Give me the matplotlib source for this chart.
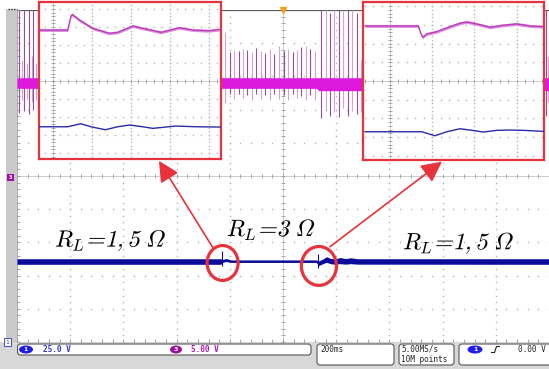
import numpy as np
import matplotlib.pyplot as plt
from matplotlib.patches import Ellipse, FancyBboxPatch, Rectangle, PathPatch
from matplotlib.textpath import TextPath
from matplotlib.transforms import Affine2D, ScaledTranslation

plt.rcParams['mathtext.fontset'] = 'cm'

# scope settings
ch1_scale = 25.0    # V/div, ground marker at bottom of screen
ch1_offset = -5.0
ch3_scale = 5.0     # V/div, ground marker at centre
ch3_offset = 0.0
t_div = 0.2         # 200 ms/div

# CH1 (blue) output voltage, envelope of the trace in V
blue_t = [0.0, 0.766, 0.772, 0.785, 0.805, 1.125, 1.134, 1.150, 1.163, 1.178,
          1.195, 1.215, 1.235, 1.255, 1.280, 2.0]
blue_lo = [58.5, 58.5, 59.9, 60.6, 59.9, 59.9, 57.5, 59.0, 60.0, 59.0,
           58.5, 59.0, 58.6, 59.0, 58.6, 58.5]
blue_hi = [62.7, 62.7, 62.0, 62.9, 61.8, 61.8, 61.0, 62.5, 64.2, 63.0,
           62.6, 63.6, 62.8, 63.4, 62.7, 62.7]
blue_spike_t = [0.771, 1.131]
blue_spike_lo = [57.2, 55.5]
blue_spike_hi = [68.5, 66.0]

# CH3 (magenta) band in V
mag_t = [0.0, 1.125, 1.135, 2.0]
mag_lo = [13.2, 13.2, 12.85, 12.85]
mag_hi = [14.8, 14.8, 14.8, 14.8]

# switching spikes on CH3 (visible outside the zoom windows)
spike_t = [0.009, 0.018, 0.026, 0.037, 0.045, 0.055, 0.061, 0.071, 0.079,
           0.782, 0.799, 0.816, 0.833, 0.850, 0.866, 0.883, 0.900, 0.917, 0.934,
           0.951, 0.968, 0.985, 1.002, 1.019, 1.036, 1.052, 1.069, 1.086, 1.103, 1.120,
           1.143, 1.160, 1.177, 1.193, 1.210, 1.227, 1.244, 1.261, 1.278, 1.293,
           1.987, 1.996]
spike_hi = [25, 17.5, 25, 17, 25, 18, 25, 17, 25,
            21.7, 18.6, 19.0, 18.8, 19.2, 19.0, 18.7, 19.3, 18.9, 18.5,
            19.2, 18.4, 19.6, 18.8, 19.1, 18.7, 19.0, 19.4, 19.6, 19.2, 18.9,
            25, 25, 24.5, 25, 25, 24.8, 25, 25, 24.6, 17.5,
            25, 18]
spike_lo = [9.5, 11.4, 9.8, 11.6, 9.4, 11.2, 9.9, 11.5, 10.2,
            11.0, 12.3, 11.6, 12.4, 11.7, 12.2, 11.5, 12.4, 11.6, 12.2,
            11.4, 12.3, 11.6, 12.2, 11.5, 12.3, 11.7, 12.1, 11.4, 12.2, 11.5,
            8.7, 10.0, 9.1, 9.6, 8.9, 10.2, 9.0, 9.8, 9.3, 9.7,
            9.0, 11.2]

# zoom windows (divisions of the zoomed captures)
zl_mag_x = [-0.35, 0.385, 0.469, 0.500, 0.682, 1.026, 1.451, 1.667, 2.051, 2.308,
            2.777, 3.246, 3.590, 4.008, 4.315]
zl_mag_y = [2.833, 2.833, 3.600, 3.700, 3.389, 2.928, 2.650, 2.706, 3.056, 2.928,
            2.706, 2.961, 2.833, 2.794, 2.872]
zl_blue_x = [-0.35, 0.385, 0.72, 0.98, 1.35, 1.667, 1.97, 2.308, 2.564, 3.162,
             3.675, 4.315]
zl_blue_y = [-2.539, -2.539, -2.372, -2.539, -2.706, -2.539, -2.444, -2.539, -2.628,
             -2.500, -2.539, -2.556]
zr_mag_x = [-0.592, 0.671, 0.727, 0.775, 0.870, 1.107, 1.422, 1.659, 1.818, 2.055,
            2.370, 2.685, 3.002, 3.318, 3.633]
zr_mag_y = [2.941, 2.941, 2.551, 2.337, 2.513, 2.636, 2.904, 3.086, 3.155, 3.048,
            2.872, 2.979, 3.048, 2.941, 2.904]
zr_blue_x = [-0.592, 0.751, 1.066, 1.344, 1.659, 1.896, 2.211, 2.528, 2.844, 3.159,
             3.633]
zr_blue_y = [-2.711, -2.711, -2.925, -2.711, -2.551, -2.620, -2.727, -2.636, -2.620,
             -2.636, -2.690]

load_labels = [r'$\mathrm{R}_\mathrm{L}\!=\!1,5\ \Omega$', r'$\mathrm{R}_\mathrm{L}\!=\!3\ \Omega$',
               r'$\mathrm{R}_\mathrm{L}\!=\!1,5\ \Omega$']
label_t = [0.143, 0.789, 1.451]
label_div = [-2.13, -1.81, -2.21]

RED = '#e8323c'
BLUE = '#0c0c9c'
MAG = '#dd19dd'


def ch1(v):
    return np.asarray(v) / ch1_scale + ch1_offset


def ch3(v):
    return np.asarray(v) / ch3_scale + ch3_offset


def marks(lo, hi, c, step):
    k = np.arange(np.ceil((lo - c) / step - 1e-6), np.floor((hi - c) / step + 1e-6) + 1)
    return c + k * step


def graticule(a, xlim, ylim, dx, dy, cx, cy):
    a.set_xlim(*xlim)
    a.set_ylim(*ylim)
    a.set_xticks([])
    a.set_yticks([])
    xmaj, ymaj = marks(*xlim, cx, dx), marks(*ylim, cy, dy)
    xmin, ymin = marks(*xlim, cx, dx / 5), marks(*ylim, cy, dy / 5)
    ex, ey = dx * 0.05, dy * 0.05
    dot = dict(ls='', marker='s', ms=1.0, mew=0, color='#b4b4b4', zorder=0.5)
    for x in xmaj:
        if abs(x - cx) > ex and x - xlim[0] > ex and xlim[1] - x > ex:
            a.plot(np.full_like(ymin, x), ymin, **dot)
    for y in ymaj:
        if abs(y - cy) > ey and y - ylim[0] > ey and ylim[1] - y > ey:
            a.plot(xmin, np.full_like(xmin, y), **dot)
    a.axvline(cx, color='#c4c4c4', lw=0.6, zorder=0.5)
    a.axhline(cy, color='#c4c4c4', lw=0.6, zorder=0.5)
    a.plot(xmin, np.full_like(xmin, cy), ls='', marker='|', ms=3.2, mew=0.6,
           color='#9a9a9a', zorder=0.6)
    a.plot(np.full_like(ymin, cx), ymin, ls='', marker='_', ms=3.2, mew=0.6,
           color='#9a9a9a', zorder=0.6)
    return xmin, ymin


W, H = 549, 369
fig = plt.figure(figsize=(W / 100, H / 100), dpi=100)


def rect(x0, y0, x1, y1):
    return [x0 / W, 1 - y1 / H, (x1 - x0) / W, (y1 - y0) / H]


# screen chrome
bg = fig.add_axes([0, 0, 1, 1])
bg.set_xlim(0, W)
bg.set_ylim(H, 0)
bg.axis('off')
bg.add_patch(Rectangle((6, 9), 11, 333, fc='#c9c9c9', ec='none'))
bg.add_patch(Rectangle((0, 342), W, 27, fc='#d8d8d8', ec='none'))
bg.plot([8, 17], [9.2, 9.2], color='#333333', lw=1, ls=(0, (1, 1)))
bg.add_patch(Rectangle((6.5, 173.5), 7, 7, fc='#a010a0', ec='none'))
bg.text(10, 177.3, '3', color='white', fontsize=3.5, ha='center', va='center', weight='bold')
bg.add_patch(Rectangle((3.5, 338), 7, 8, fc='white', ec='#3030c0', lw=0.6))
bg.text(7, 342.3, '1', color='#3030c0', fontsize=4.5, ha='center', va='center')

mono = dict(family='DejaVu Sans Mono', fontsize=5.6)
box = dict(boxstyle='round,pad=0,rounding_size=3', fc='white', ec='#555555', lw=0.8)
bg.add_patch(FancyBboxPatch((17.5, 344), 293.5, 11, **box))
bg.add_patch(FancyBboxPatch((317, 344), 77, 21, **box))
bg.add_patch(FancyBboxPatch((399, 344), 55, 21, **box))
bg.add_patch(FancyBboxPatch((459, 344), 95, 21, **box))
bg.add_patch(Ellipse((26, 349.5), 14, 8, fc='#1d1df0', ec='none'))
bg.text(26, 349.7, '1', color='white', fontsize=4.5, ha='center', va='center', weight='bold')
bg.text(43, 349.7, '25.0 V', color='#3535d5', va='center', weight='bold', **mono)
bg.add_patch(Ellipse((176, 349.5), 12, 8, fc='#9c0f9c', ec='none'))
bg.text(176, 349.7, '3', color='white', fontsize=4.5, ha='center', va='center', weight='bold')
bg.text(191, 349.7, '5.00 V', color='#b019b0', va='center', weight='bold', **mono)
bg.text(320, 349.5, '200ms', color='#222222', va='center', **mono)
bg.text(401, 349.5, '5.00MS/s', color='#222222', va='center', **mono)
bg.text(401, 359.5, '10M points', color='#222222', va='center', **mono)
bg.add_patch(Ellipse((475, 349.5), 15, 8, fc='#1d1df0', ec='none'))
bg.text(475, 349.7, '1', color='white', fontsize=4.5, ha='center', va='center', weight='bold')
bg.plot([491.5, 494.5, 496.5, 499.5], [352.5, 352.5, 346.5, 346.5], color='#222222', lw=0.8)
bg.text(546, 349.5, '0.00 V', color='#222222', va='center', ha='right', **mono)

# main graticule
ax = fig.add_axes(rect(17, 10, 549, 342))
for s in ax.spines.values():
    s.set_visible(False)
tmin, vmin = graticule(ax, (0, 10 * t_div), (-5, 5), t_div, 1.0, 5 * t_div, 0.0)
ax.axvline(0, color='#b0b0b0', lw=0.8)
ax.axhline(-5, color='#b0b0b0', lw=0.8)
ax.axhline(5, color='#5a5a5a', lw=1.6)
ax.plot(np.zeros_like(vmin), vmin, ls='', marker='_', ms=4, mew=0.6, color='#9a9a9a')
ax.plot(tmin, np.full_like(tmin, -5), ls='', marker='|', ms=4, mew=0.6, color='#9a9a9a')
ax.plot([5 * t_div], [5], marker='v', ms=4, color='#f0a020', clip_on=False, zorder=5)

# CH3 trace
cols = ['#9b4b9b' if i % 2 == 0 else '#d3a3d3' for i in range(len(spike_t))]
ax.vlines(spike_t, ch3(spike_lo), ch3(spike_hi), colors=cols, lw=0.8, zorder=2)
ax.fill_between(mag_t, ch3(mag_lo), ch3(mag_hi), color=MAG, lw=0, zorder=3)

# CH1 trace
ax.fill_between(blue_t, ch1(blue_lo), ch1(blue_hi), color=BLUE, lw=0, zorder=3)
ax.vlines(blue_spike_t, ch1(blue_spike_lo), ch1(blue_spike_hi), colors=BLUE, lw=0.8, zorder=3)

# load labels, slanted like LaTeX italics
for txt, t, y in zip(load_labels, label_t, label_div):
    path = TextPath((0, 0), txt, size=17)
    tr = (Affine2D().skew_deg(14, 0).scale(1 / 72) + fig.dpi_scale_trans
          + ScaledTranslation(t, y, ax.transData))
    ax.add_patch(PathPatch(path, transform=tr, fc='black', ec='none', zorder=6))

# circled events
ax.add_patch(Ellipse((blue_spike_t[0] + 0.002, -2.62), 0.1165, 1.05, fill=False,
                     ec=RED, lw=2.3, zorder=6))
ax.add_patch(Ellipse((blue_spike_t[1] + 0.004, -2.71), 0.132, 1.17, fill=False,
                     ec=RED, lw=2.3, zorder=6))

# zoom windows
axl = fig.add_axes(rect(39, 2, 221, 159))
graticule(axl, (-0.35, 4.315), (-4.33, 4.39), 1.0, 1.0, 0.0, 0.0)
axl.fill_between(zl_mag_x, np.array(zl_mag_y) - 0.08, np.array(zl_mag_y) + 0.08,
                 color='#dc8cdc', lw=0, zorder=2)
axl.plot(zl_mag_x, zl_mag_y, color='#b938b9', lw=0.9, zorder=3)
axl.plot(zl_blue_x, zl_blue_y, color='#2b2ba8', lw=1.0, zorder=3)

axr = fig.add_axes(rect(363, 2, 544, 160))
graticule(axr, (-0.64, 3.65), (-4.22, 4.22), 1.0, 1.0, 0.0, 0.0)
axr.fill_between(zr_mag_x, np.array(zr_mag_y) - 0.08, np.array(zr_mag_y) + 0.08,
                 color='#dc8cdc', lw=0, zorder=2)
axr.plot(zr_mag_x, zr_mag_y, color='#b938b9', lw=0.9, zorder=3)
axr.plot(zr_blue_x, zr_blue_y, color='#2b2ba8', lw=1.0, zorder=3)

for a in (axl, axr):
    for s in a.spines.values():
        s.set_color(RED)
        s.set_linewidth(1.6)

arrow = dict(arrowstyle='-|>,head_length=0.9,head_width=0.45', mutation_scale=14,
             color=RED, lw=1.2, shrinkA=0, shrinkB=0)
ax.annotate('', xy=(0.659, -0.012), xycoords=axl.transAxes, xytext=(0.738, -2.18),
            textcoords='data', arrowprops=arrow, zorder=6)
ax.annotate('', xy=(0.4365, -0.01), xycoords=axr.transAxes, xytext=(1.1766, -2.13),
            textcoords='data', arrowprops=arrow, zorder=6)

fig.savefig('out.png', dpi=100)
